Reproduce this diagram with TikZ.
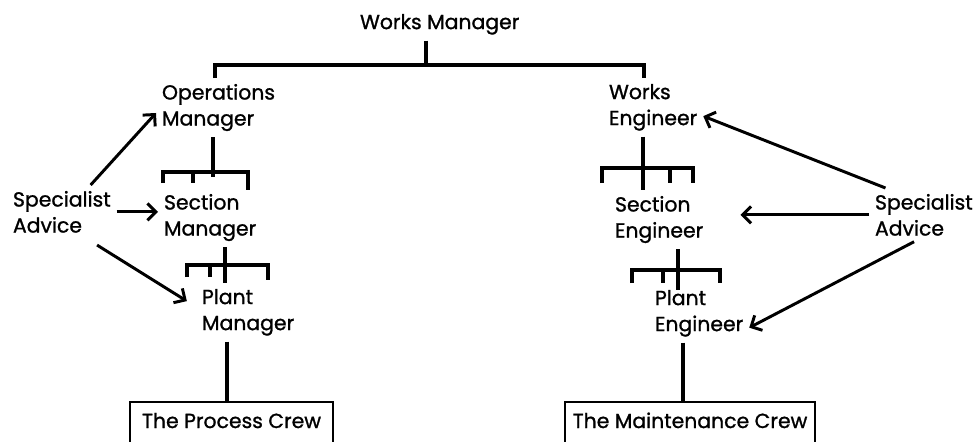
\documentclass[tikz,border=0pt]{standalone}
\usepackage{fontspec}
\setmainfont{Poppins}[FakeBold=1.1]
\usetikzlibrary{arrows.meta}

\begin{document}
\begin{tikzpicture}[
        x=0.025cm, y=-0.025cm,
        every node/.style={font=\fontsize{14.5}{18.5}\selectfont},
        post/.style={align=left, inner sep=0pt, outer sep=0.15cm, anchor=north west},
        crew/.style={draw, line width=2pt, inner sep=0pt, outer sep=0pt, text height=0.65cm, text depth=0.5cm, anchor=north},
        link/.style={line width=2.4pt},
        arrow/.style={line width=2.1pt, -{Straight Barb[length=6pt, width=12pt]}}
        ]

        \useasboundingbox (0,0) rectangle (978,441);
        \clip (0,0) rectangle (978,441);

        \node[post] (wm) at (354, 8) {Works Manager};

        \node[post] (om) at (156, 78) {Operations\\Manager};
        \node[post] (sm) at (158, 188) {Section\\Manager};
        \node[post] (pm) at (196, 283) {Plant\\Manager};

        \node[post] (we) at (603, 78) {Works\\Engineer};
        \node[post] (se) at (609, 190) {Section\\Engineer};
        \node[post] (pe) at (649, 284) {Plant\\Engineer};

        \node[post] (sal) at (7, 185) {Specialist\\Advice};
        \node[post] (sar) at (869, 188) {Specialist\\Advice};

        \node[crew, minimum width=5.075cm] (pc) at (231.5, 402) {The Process Crew};
        \node[crew, minimum width=6.25cm] (mc) at (690, 402) {The Maintenance Crew};

        % top of the tree
        \coordinate (topfork) at (426,65);
        \coordinate (topL) at (215,65);
        \coordinate (topR) at (644,65);
        \draw[link] (wm.south -| topfork) -- (topfork);
        \draw[link] (om.north -| topL) -- (topL) -- (topR) -- (we.north -| topR);

        % operations side
        \coordinate (omfork) at (213,172);
        \draw[link] (om.south -| omfork) -- (omfork) -- ++(0,5);
        \draw[link] (omfork) ++(-50,11) -- ++(0,-11) -- ++(85,0) -- ++(0,18);
        \draw[link] (omfork) ++(-20,0) -- ++(0,11);

        \coordinate (smfork) at (225,265);
        \draw[link] (sm.south -| smfork) -- (smfork) -- ++(0,18);
        \draw[link] (smfork) ++(-38,12) -- ++(0,-12) -- ++(81,0) -- ++(0,15);
        \draw[link] (smfork) ++(-15,0) -- ++(0,12);

        \coordinate (pmdrop) at (227,402);
        \draw[link] (pm.south -| pmdrop) -- (pmdrop);

        % engineering side
        \coordinate (wefork) at (643,168);
        \draw[link] (we.south -| wefork) -- (wefork) -- ++(0,22);
        \draw[link] (wefork) ++(-41,15) -- ++(0,-15) -- ++(91,0) -- ++(0,15);
        \draw[link] (wefork) ++(27,0) -- ++(0,15);

        \coordinate (sefork) at (678,270);
        \draw[link] (se.south -| sefork) -- (sefork) -- ++(0,20);
        \draw[link] (sefork) ++(-46,13) -- ++(0,-13) -- ++(88,0) -- ++(0,13);
        \draw[link] (sefork) ++(-15,0) -- ++(0,13);

        \coordinate (pedrop) at (683,402);
        \draw[link] (pe.south -| pedrop) -- (pedrop);

        % advice arrows
        \draw[arrow] (sal.43) -- (om.185);
        \draw[arrow] (sal.east) -- (sal.east -| sm.west);
        \draw[arrow, shorten <=0.3cm, shorten >=0.27cm] (sal.-47) -- (pm.174);

        \draw[arrow] (sar.145) -- (we.-10);
        \draw[arrow, shorten >=0.78cm] (sar.west) -- (sar.west -| se.east);
        \draw[arrow] (sar.250) -- (pe.-16);

    \end{tikzpicture}
\end{document}
